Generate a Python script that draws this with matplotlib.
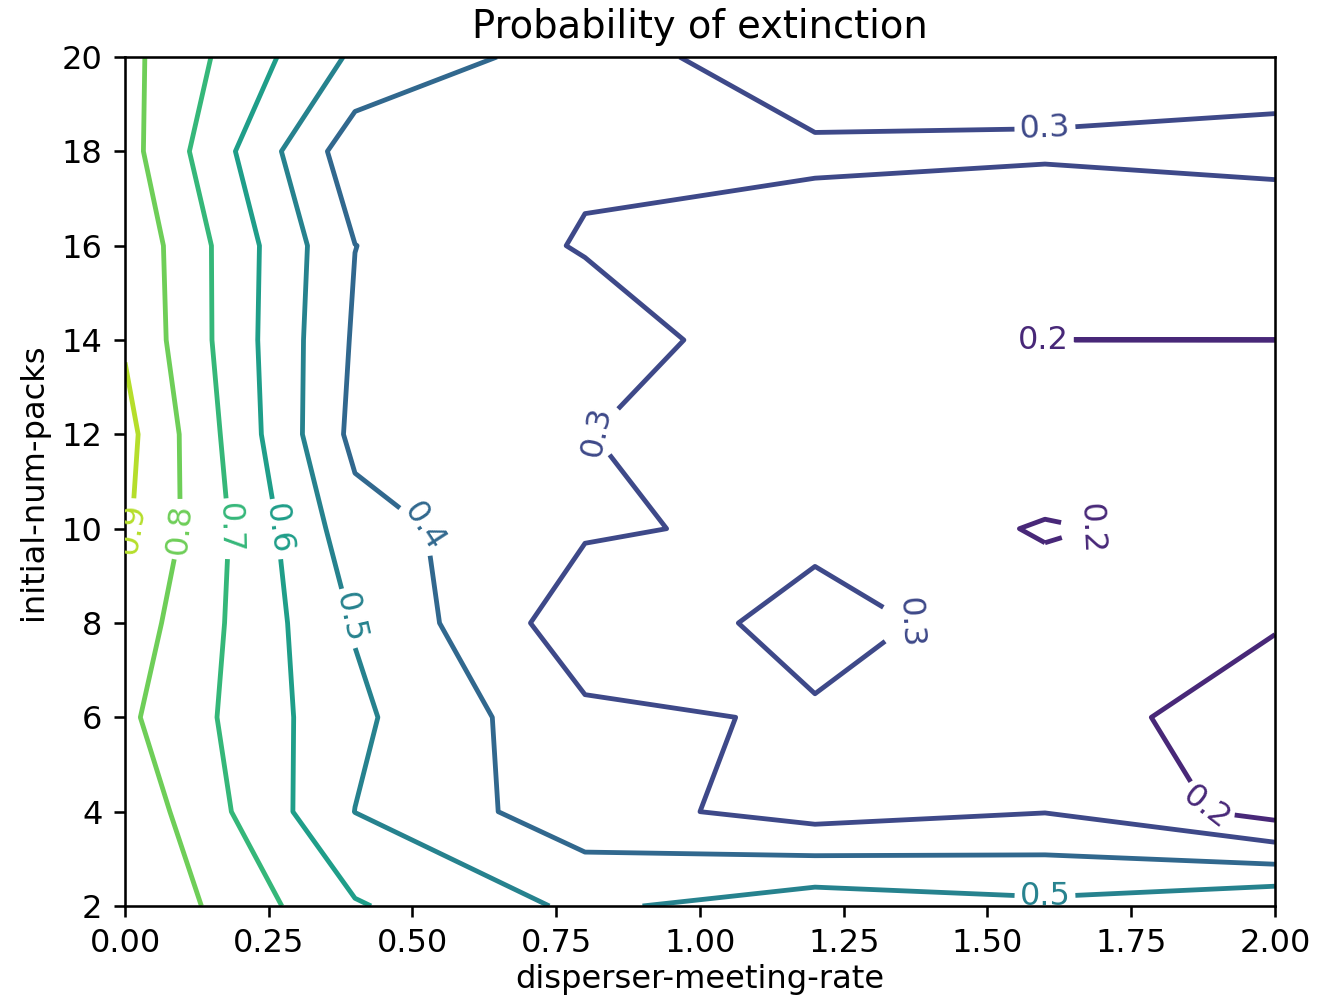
import numpy as np
import matplotlib.pyplot as plt

# grid of the sweep
meeting_rate = [0.0, 0.4, 0.8, 1.2, 1.6, 2.0]
num_packs = [2, 4, 6, 8, 10, 12, 14, 16, 18, 20]

# probability of extinction, one row per initial-num-packs value
p_2 = [0.895, 0.609, 0.480, 0.560, 0.522, 0.590]
p_4 = [0.873, 0.499, 0.340, 0.260, 0.297, 0.161]
p_6 = [0.820, 0.520, 0.319, 0.290, 0.243, 0.150]
p_8 = [0.858, 0.493, 0.240, 0.330, 0.257, 0.207]
p_10 = [0.914, 0.440, 0.311, 0.280, 0.190, 0.240]
p_12 = [0.932, 0.372, 0.302, 0.250, 0.290, 0.250]
p_14 = [0.890, 0.3875, 0.363, 0.2165, 0.1999, 0.1999]
p_16 = [0.880, 0.401, 0.291, 0.256, 0.223, 0.230]
p_18 = [0.840, 0.340, 0.3175, 0.3175, 0.312, 0.330]
p_20 = [0.830, 0.482, 0.349, 0.230, 0.262, 0.255]

Z = np.array([p_2, p_4, p_6, p_8, p_10, p_12, p_14, p_16, p_18, p_20])
X, Y = np.meshgrid(meeting_rate, num_packs)

# where the contour labels sit
label_spots = [(0.012, 10.0), (0.09, 10.0), (0.185, 10.0), (0.27, 10.0),
               (0.39, 8.1), (0.53, 10.2), (1.6, 2.2),
               (0.81, 12.2), (1.6, 18.48), (1.37, 8.0),
               (1.598, 14.0), (1.68, 10.0), (1.89, 4.15)]

dpi = 231
fig = plt.figure(figsize=(1337 / dpi, 1000 / dpi), dpi=dpi)
ax = fig.add_axes([0.0935, 0.094, 0.8601, 0.849])

cs = ax.contour(X, Y, Z)
texts = ax.clabel(cs, inline=True, fontsize=10, manual=label_spots)
# the label at the end of the flat 0.2 line reads horizontally
for t in texts:
    px, py = t.get_position()
    if abs(py - 14.0) < 0.2 and px > 1.4:
        t.set_rotation(0)

ax.set_title('Probability of extinction')
ax.set_xlabel('disperser-meeting-rate', labelpad=1.5)
ax.set_ylabel('initial-num-packs')

fig.savefig('out.png', dpi=dpi)
